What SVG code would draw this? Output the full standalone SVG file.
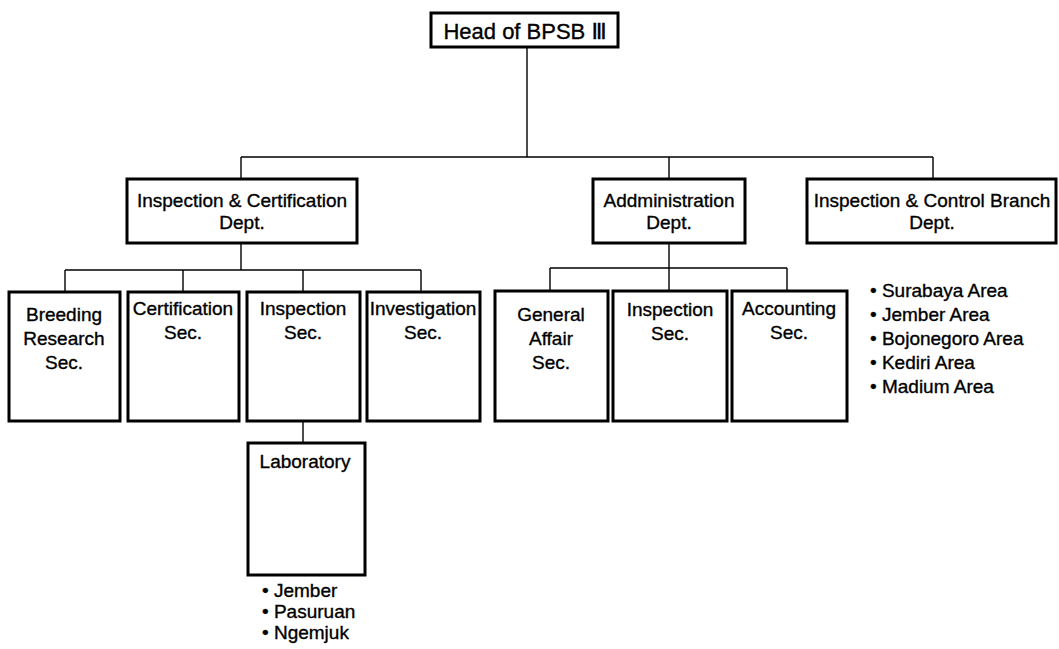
<svg xmlns="http://www.w3.org/2000/svg" width="1059" height="649" viewBox="0 0 1059 649">
<style>
.box{fill:#fff;stroke:#000;stroke-width:3}
.ln{fill:none;stroke:#000;stroke-width:1.4}
text{font-family:"Liberation Sans",Arial,"DejaVu Sans",sans-serif;font-size:19px;fill:#000;stroke:#000;stroke-width:0.35}
.c{text-anchor:middle}
</style>
<rect width="1059" height="649" fill="#fff"/>
<g id="connectors">
<path class="ln" d="M527 47V157M241 157H933M241 157V179M669 157V179M933 157V179"/>
<path class="ln" d="M241 243V270M65 270H421M65 270V292M183 270V292M303 270V292M421 270V292"/>
<path class="ln" d="M669 243V291M550 268H787M550 268V291M787 268V291"/>
<path class="ln" d="M303 421V443"/>
</g>
<g id="head"><rect class="box" x="431" y="13" width="187" height="34"/><text class="c" x="525" y="39" style="font-size:22px">Head of BPSB Ⅲ</text></g>
<g id="ic-dept"><rect class="box" x="127" y="179" width="230" height="64"/><text class="c" x="242" y="207">Inspection &amp; Certification</text><text class="c" x="242" y="229">Dept.</text></g>
<g id="admin-dept"><rect class="box" x="593" y="179" width="152" height="64"/><text class="c" x="669" y="207">Addministration</text><text class="c" x="669" y="229">Dept.</text></g>
<g id="icb-dept"><rect class="box" x="807" y="179" width="249" height="64"/><text class="c" x="932" y="207">Inspection &amp; Control Branch</text><text class="c" x="932" y="229">Dept.</text></g>
<g id="breeding"><rect class="box" x="9" y="292" width="111" height="129"/><text class="c" x="64" y="321">Breeding</text><text class="c" x="64" y="345">Research</text><text class="c" x="64" y="369">Sec.</text></g>
<g id="certification"><rect class="box" x="128" y="292" width="111" height="129"/><text class="c" x="183" y="315">Certification</text><text class="c" x="183" y="339">Sec.</text></g>
<g id="inspection1"><rect class="box" x="247" y="292" width="113" height="129"/><text class="c" x="303" y="315">Inspection</text><text class="c" x="303" y="339">Sec.</text></g>
<g id="investigation"><rect class="box" x="367" y="292" width="113" height="129"/><text class="c" x="423" y="315">Investigation</text><text class="c" x="423" y="339">Sec.</text></g>
<g id="general"><rect class="box" x="495" y="291" width="113" height="130"/><text class="c" x="551" y="321">General</text><text class="c" x="551" y="345">Affair</text><text class="c" x="551" y="369">Sec.</text></g>
<g id="inspection2"><rect class="box" x="613" y="291" width="114" height="130"/><text class="c" x="670" y="316">Inspection</text><text class="c" x="670" y="340">Sec.</text></g>
<g id="accounting"><rect class="box" x="732" y="291" width="115" height="130"/><text class="c" x="789" y="315">Accounting</text><text class="c" x="789" y="339">Sec.</text></g>
<g id="laboratory"><rect class="box" x="248" y="443" width="117" height="132"/><text class="c" x="305" y="468">Laboratory</text>
<text x="262" y="597">• Jember</text><text x="262" y="618">• Pasuruan</text><text x="262" y="639">• Ngemjuk</text></g>
<g id="areas"><text x="870" y="297">• Surabaya Area</text><text x="870" y="321">• Jember Area</text><text x="870" y="345">• Bojonegoro Area</text><text x="870" y="369">• Kediri Area</text><text x="870" y="393">• Madium Area</text></g>
</svg>
